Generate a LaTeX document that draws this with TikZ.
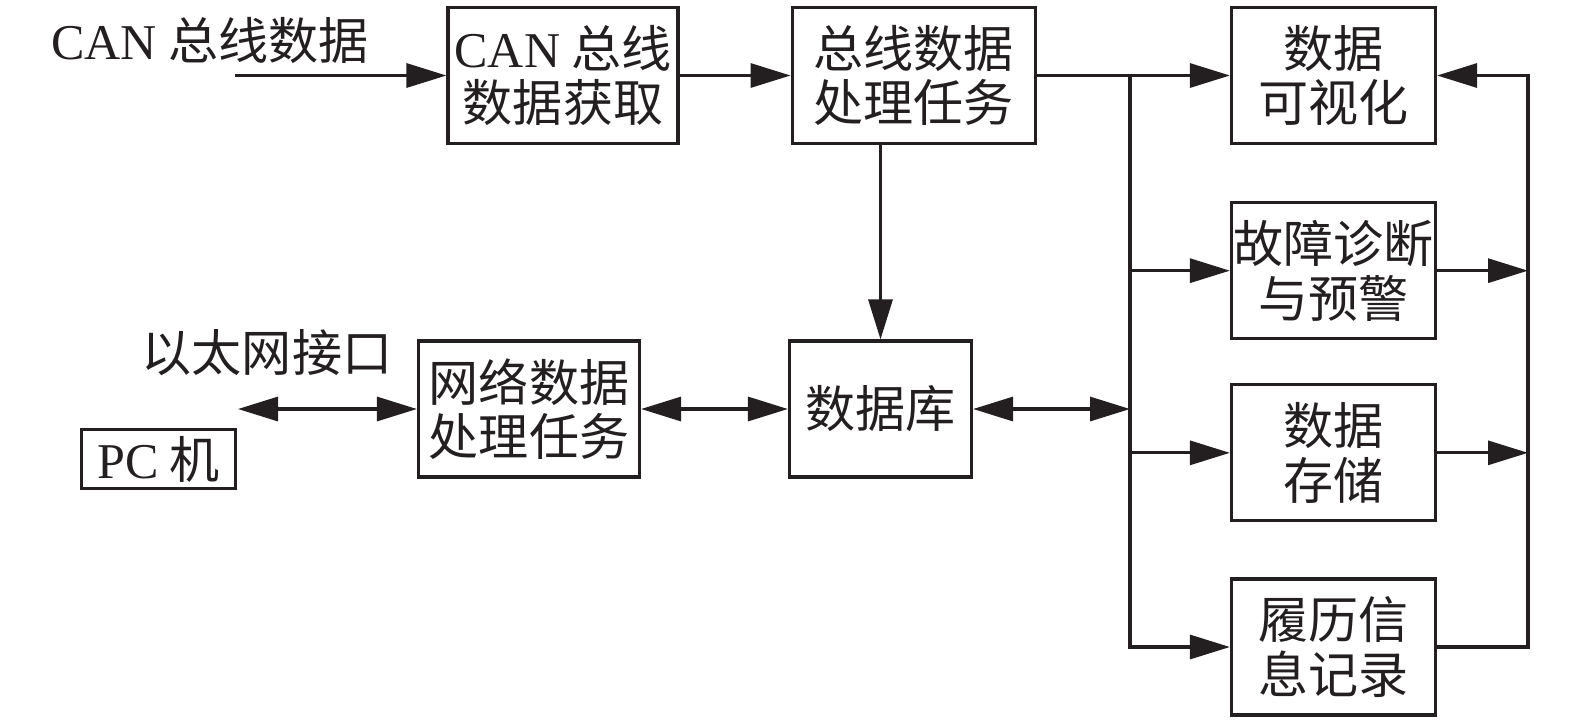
\documentclass[tikz,border=0pt]{standalone}
\usepackage{fontspec}
\setmainfont{Liberation Serif}
\newfontfamily\cjkfont{Noto Sans CJK SC}
\usepackage{tikz}
\usetikzlibrary{arrows.meta,positioning}
\definecolor{Ink}{HTML}{231F20}
\newcommand{\lat}[1]{{\rmfamily #1}}
\tikzset{
  every picture/.style={line width=1.8pt},
  blocktext/.style={
    align=center,
    font=\fontsize{28.5}{31}\selectfont\cjkfont,
    text=Ink,
    inner sep=0pt
  },
  procbox/.style={
    blocktext,
    draw=Ink,
    minimum height=27.2mm
  },
  sidebox/.style={procbox, minimum width=40.8mm},
  pcbox/.style={blocktext, draw=Ink, minimum width=30.8mm, minimum height=11.8mm},
  flowarrow/.style={-{Triangle[length=8mm,width=4.8mm]}, draw=Ink},
  duplexarrow/.style={{Triangle[length=8mm,width=4.8mm]}-{Triangle[length=8mm,width=4.8mm]}, draw=Ink}
}

\begin{document}
\begin{tikzpicture}[x=0.2mm, y=-0.2mm]
  \useasboundingbox (0,0) rectangle (1575,722);

  \node[blocktext] (canlbl) at (210,40) {\lat{CAN} 总线数据};
  \coordinate (canin) at (235,75.5);
  \node[procbox, minimum width=46mm] (acq) at (563,75.5) {\lat{CAN} 总线\\数据获取};
  \node[procbox, minimum width=48.6mm, right=22.2mm of acq] (proc) {总线数据\\处理任务};

  \draw[flowarrow] (canin) -- (acq);
  \draw[flowarrow] (acq) -- (proc);

  \node[procbox, minimum width=36.4mm] (db) at (880.5,409) {数据库};
  \node[procbox, minimum width=44.2mm] (net) at (529,409) {网络数据\\处理任务};
  \node[blocktext] (ethlbl) at (267,353) {以太网接口};
  \node[pcbox] (pc) at (158.5,459) {\lat{PC} 机};
  \coordinate (ethend) at (238,409);

  \draw[flowarrow] (proc.south -| db.north) -- (db.north);
  \draw[duplexarrow] (net) -- (db);
  \draw[duplexarrow] (ethend) -- (net);

  \node[sidebox] (vis) at (1333.5,75.5) {数据\\可视化};
  \node[sidebox, below=11.2mm of vis] (diag) {故障诊断\\与预警};
  \node[sidebox, below=8.6mm of diag] (store) {数据\\存储};
  \node[sidebox, below=11mm of store] (hist) {履历信\\息记录};

  \coordinate (tapL) at (1130,75.5);
  \coordinate (tapR) at (1528,75.5);

  \draw[flowarrow] (proc.east) -- (vis.west);
  \draw[flowarrow] (tapL) |- (hist.west);
  \draw[flowarrow] (diag.west -| tapL) -- (diag.west);
  \draw[flowarrow] (store.west -| tapL) -- (store.west);
  \draw[duplexarrow] (db.east) -- (db.east -| tapL);

  \draw[flowarrow] (hist.east) -| (tapR) -- (vis.east);
  \draw[flowarrow] (diag.east) -- (diag.east -| tapR);
  \draw[flowarrow] (store.east) -- (store.east -| tapR);
\end{tikzpicture}
\end{document}
